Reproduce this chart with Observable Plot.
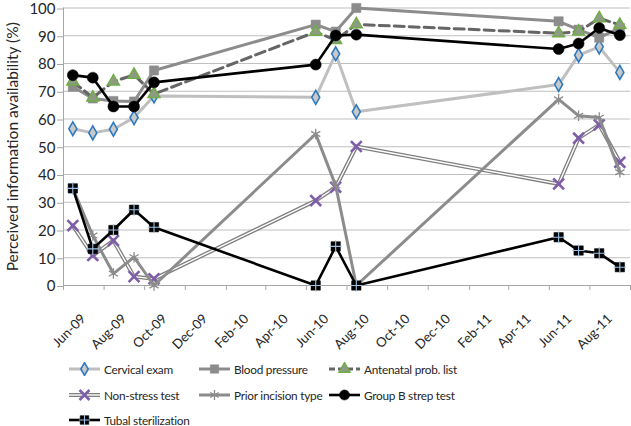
<!DOCTYPE html>
<html><head><meta charset="utf-8">
<script src="https://cdn.jsdelivr.net/npm/d3@7"></script>
<script src="https://cdn.jsdelivr.net/npm/@observablehq/plot@0.6"></script>
<style>
body{margin:0;background:#fff;font-family:Lato,"Liberation Sans",sans-serif;color:#262626;}
#wrap{position:relative;width:631px;height:426px;overflow:hidden;}
#legend{position:absolute;left:0;top:350px;width:631px;height:76px;}
.item{position:absolute;display:flex;align-items:center;font-size:11.8px;letter-spacing:-0.25px;white-space:nowrap;}
.item svg{margin-right:3px;}
</style></head><body>
<div id="wrap"><div id="chart"></div><div id="legend"></div></div>
<script>
// ---- data ----
const dates = ["2009-06-15","2009-07-15","2009-08-15","2009-09-15","2009-10-15","2010-06-15","2010-07-15","2010-08-15","2011-06-15","2011-07-15","2011-08-15","2011-09-15"];
const seriesNames = ["Cervical exam","Blood pressure","Antenatal prob. list","Non-stress test","Prior incision type","Group B strep test","Tubal sterilization"];
const cervical      = [56.5, 55.0, 56.3, 60.5, 68.3, 67.8, 83.5, 62.6, 72.4, 83.0, 86.0, 76.8];
const bloodPressure = [71.6, 67.4, 66.5, 66.3, 77.5, 94.0, 91.5, 100.0, 95.2, 92.2, 89.3, 92.8];
const antenatal     = [73.5, 67.7, 73.5, 75.9, 69.0, 91.4, 88.4, 94.1, 90.9, 91.5, 96.3, 93.9];
const nonStress     = [21.6, 10.8, 16.2, 3.2, 2.4, 30.6, 35.4, 50.1, 36.6, 53.1, 57.9, 44.4];
const priorIncision = [35.0, 18.0, 4.3, 10.2, 0.0, 54.6, 36.0, 0.0, 67.1, 61.2, 60.5, 40.8];
const groupBStrep   = [75.8, 74.9, 64.5, 64.5, 73.2, 79.6, 90.1, 90.4, 85.2, 87.2, 92.8, 90.2];
const tubal         = [35.0, 13.2, 20.0, 27.3, 21.0, 0.0, 14.1, 0.0, 17.4, 12.6, 11.6, 6.6];
const xTickLabels = ["Jun-09","Aug-09","Oct-09","Dec-09","Feb-10","Apr-10","Jun-10","Aug-10","Oct-10","Dec-10","Feb-11","Apr-11","Jun-11","Aug-11"];
const yTicks = [0,10,20,30,40,50,60,70,80,90,100];
const xDomainLabels = ["Jun-09","Oct-11"];
const yLabel = "Perceived information availability (%)";

// ---- build ----
const parseLbl = d3.utcParse("%b-%y");
const fmt = d3.utcFormat("%b-%y");
const xTicks = xTickLabels.map(parseLbl);
const xDomain = xDomainLabels.map(parseLbl);
const valuesBySeries = [cervical, bloodPressure, antenatal, nonStress, priorIncision, groupBStrep, tubal];
const rows = seriesNames.map((name, s) => dates.map((d, i) => ({series: name, date: new Date(d + "T00:00:00Z"), value: valuesBySeries[s][i]})));
const R = name => rows[seriesNames.indexOf(name)];

const styles = {
  "Cervical exam": {lines:[{stroke:"#bfbfbf", w:3}], dots:[{symbol:"diamond", r:4.2, fill:"#c9c9c9", stroke:"#2e7ac0", sw:1.6}]},
  "Blood pressure": {lines:[{stroke:"#8c8c8c", w:3}], dots:[{symbol:"square", r:5.2, fill:"#8c8c8c", stroke:"#8c8c8c", sw:0.5}]},
  "Antenatal prob. list": {lines:[{stroke:"#666666", w:3, dash:"10,5"}], dots:[{symbol:"triangle", r:4.4, fill:"#8f9a86", stroke:"#70ad47", sw:1.5}]},
  "Non-stress test": {lines:[{stroke:"#7f7f7f", w:4},{stroke:"#ffffff", w:1.4}], dots:[{symbol:"times", r:5.0, fill:"none", stroke:"#7e5ea8", sw:2.6}]},
  "Prior incision type": {lines:[{stroke:"#8c8c8c", w:3}], dots:[{symbol:"asterisk", r:5.0, fill:"none", stroke:"#8c8c8c", sw:1.3}]},
  "Group B strep test": {lines:[{stroke:"#000000", w:2.6}], dots:[{symbol:"circle", r:5.5, fill:"#000000", stroke:"#000000", sw:0.5}]},
  "Tubal sterilization": {lines:[{stroke:"#000000", w:2.6}], dots:[{symbol:"square", r:5.3, fill:"#000000", stroke:"#000000", sw:0.5},{symbol:"plus", r:4.0, fill:"none", stroke:"#9dc3e6", sw:1.1}]}
};

const marks = [
  Plot.gridY(yTicks, {stroke:"#bfbfbf", strokeOpacity:1, strokeWidth:1}),
  Plot.ruleX([xDomain[0]], {stroke:"#a6a6a6", strokeWidth:1}),
  Plot.ruleY([0], {stroke:"#a6a6a6", strokeWidth:1}),
  Plot.axisY({ticks: yTicks, tickSize:6, tickPadding:2, fontSize:15, dy:1, label:null, stroke:"#a6a6a6", fill:"#262626"}),
  Plot.axisX({ticks: [...xTicks, xDomain[1]], tickFormat: () => "", tickSize:5, label:null, stroke:"#a6a6a6"}),
  Plot.text(xTicks, {x: d => d, frameAnchor:"bottom", text: d => fmt(d), rotate:-45, textAnchor:"end", lineAnchor:"middle", dx:20, dy:31, fontSize:13.2, fill:"#262626"}),
  Plot.text([yLabel], {frameAnchor:"left", rotate:-90, textAnchor:"middle", lineAnchor:"middle", dx:-50, fontSize:15.5, fill:"#262626"})
];
for (const name of seriesNames) {
  const st = styles[name];
  for (const l of st.lines) marks.push(Plot.line(R(name), {x:"date", y:"value", stroke:l.stroke, strokeWidth:l.w, strokeDasharray:l.dash, strokeLinejoin:"round"}));
  for (const d of st.dots) marks.push(Plot.dot(R(name), {x:"date", y:"value", symbol:()=>d.symbol, r:d.r, fill:d.fill, stroke:d.stroke, strokeWidth:d.sw}));
}

const chart = Plot.plot({
  width: 631, height: 350,
  marginLeft: 63, marginRight: 1, marginTop: 7.5, marginBottom: 65,
  style: {fontFamily: "Lato, 'Liberation Sans', sans-serif", background:"#fff", overflow:"visible"},
  x: {type:"utc", domain: xDomain},
  y: {domain:[0,100]},
  symbol: {type:"identity"},
  marks
});
document.getElementById("chart").appendChild(chart);

// ---- legend ----
const legendPos = [[68,19],[198,19],[328,19],[68,45],[198,45],[328,45],[68,70]];
const sym = {circle:d3.symbolCircle, square:d3.symbolSquare, diamond:d3.symbolDiamond, triangle:d3.symbolTriangle, times:d3.symbolTimes, asterisk:d3.symbolAsterisk, plus:d3.symbolPlus};
const leg = d3.select("#legend");
seriesNames.forEach((name, i) => {
  const st = styles[name];
  const it = leg.append("div").attr("class","item").style("left", legendPos[i][0]+"px").style("top", (legendPos[i][1]-9)+"px").style("height","18px");
  const s = it.append("svg").attr("width",33).attr("height",14);
  for (const l of st.lines) s.append("line").attr("x1",1).attr("x2",32).attr("y1",7).attr("y2",7).attr("stroke",l.stroke).attr("stroke-width",l.w).attr("stroke-dasharray", l.dash ? "6,3" : null);
  for (const d of st.dots) s.append("path").attr("transform","translate(16.5,7)").attr("d", d3.symbol(sym[d.symbol], Math.PI*d.r*d.r*0.85)()).attr("fill",d.fill).attr("stroke",d.stroke).attr("stroke-width",d.sw);
  it.append("span").text(name);
});
</script></body></html>
